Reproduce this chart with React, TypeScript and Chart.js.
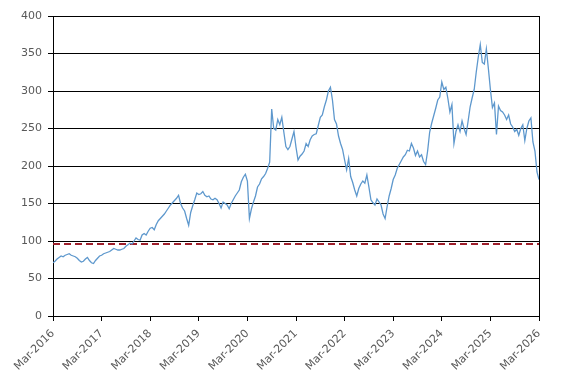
import React, { useEffect, useRef } from 'react';
import { Chart, registerables } from 'chart.js';

Chart.register(...registerables);

// Half-monthly values, starting Mar-2016
const values2016 = [71, 73, 76, 78, 80, 79, 81, 82, 83, 81, 80, 79, 77, 74, 72, 73, 76, 78, 74, 71, 70, 74, 77, 80];
const values2017 = [81, 83, 84, 85, 86, 88, 90, 89, 88, 88, 89, 90, 93, 95, 97, 96, 100, 104, 102, 101, 108, 110, 108, 113];
const values2018 = [117, 118, 115, 122, 127, 130, 133, 136, 140, 144, 148, 151, 154, 157, 161, 150, 144, 140, 130, 121, 138, 147, 155, 164];
const values2019 = [162, 163, 166, 161, 159, 160, 156, 155, 157, 155, 150, 144, 152, 150, 148, 143, 150, 155, 160, 164, 168, 179, 185, 189];
const values2020 = [180, 130, 143, 152, 160, 172, 176, 183, 186, 190, 197, 205, 276, 250, 248, 262, 255, 265, 245, 226, 222, 226, 236, 246];
const values2021 = [225, 208, 213, 216, 220, 230, 226, 235, 240, 242, 243, 254, 265, 268, 279, 288, 300, 305, 288, 262, 256, 240, 230, 222];
const values2022 = [208, 195, 210, 186, 178, 168, 160, 170, 176, 180, 177, 188, 172, 155, 151, 148, 156, 152, 148, 136, 130, 146, 160, 170];
const values2023 = [182, 188, 197, 202, 207, 212, 215, 221, 220, 230, 224, 214, 220, 212, 215, 206, 202, 220, 245, 257, 267, 277, 288, 292];
const values2024 = [312, 302, 305, 290, 272, 282, 230, 246, 255, 246, 260, 250, 242, 260, 279, 291, 302, 325, 345, 362, 338, 336, 356, 330];
const values2025 = [302, 278, 284, 242, 280, 274, 272, 268, 262, 268, 256, 252, 246, 249, 241, 250, 255, 234, 250, 260, 264, 232, 220, 192];
const valuesEnd = [182];

const thresholdValue = 96;

const xTickLabels = [
  'Mar-2016', 'Mar-2017', 'Mar-2018', 'Mar-2019', 'Mar-2020', 'Mar-2021',
  'Mar-2022', 'Mar-2023', 'Mar-2024', 'Mar-2025', 'Mar-2026',
];

const series = [
  ...values2016, ...values2017, ...values2018, ...values2019, ...values2020,
  ...values2021, ...values2022, ...values2023, ...values2024, ...values2025, ...valuesEnd,
];

export default function App() {
  const ref = useRef<HTMLCanvasElement>(null);

  useEffect(() => {
    document.body.style.margin = '0';
    const points = series.map((v, i) => ({ x: i * 0.5, y: v }));
    const lastMonth = (xTickLabels.length - 1) * 12;
    const font = { family: 'DejaVu Sans', size: 11 };
    const chart = new Chart(ref.current!, {
      type: 'line',
      data: {
        datasets: [
          {
            data: points,
            borderColor: '#5E98CD',
            borderWidth: 1.3,
            pointRadius: 0,
            tension: 0,
          },
          {
            data: [
              { x: 0, y: thresholdValue },
              { x: lastMonth, y: thresholdValue },
            ],
            borderColor: '#9E1F2B',
            borderWidth: 2,
            borderDash: [7, 4],
            pointRadius: 0,
          },
        ],
      },
      options: {
        animation: false,
        responsive: false,
        maintainAspectRatio: false,
        layout: { padding: { top: 16, right: 28, left: 0, bottom: 0 } },
        plugins: { legend: { display: false }, tooltip: { enabled: false } },
        scales: {
          x: {
            type: 'linear',
            min: 0,
            max: lastMonth,
            ticks: {
              stepSize: 12,
              autoSkip: false,
              maxRotation: 45,
              minRotation: 45,
              padding: 6,
              color: '#595959',
              font,
              callback: (v: any) => xTickLabels[Math.round(Number(v) / 12)] ?? '',
            },
            grid: {
              color: (ctx: any) => (ctx.tick && ctx.tick.value === lastMonth ? '#000' : 'rgba(0,0,0,0)'),
              tickColor: '#000',
              tickLength: 5,
              lineWidth: 1,
            },
            border: { display: true, color: '#000', width: 1 },
            afterFit: (s: any) => {
              s.height = 67;
            },
          },
          y: {
            min: 0,
            max: 400,
            ticks: { stepSize: 50, padding: 6, color: '#595959', font },
            grid: { color: '#000', tickColor: '#000', tickLength: 5, lineWidth: 1 },
            border: { display: true, color: '#000', width: 1 },
            afterFit: (s: any) => {
              s.width = 53;
            },
          },
        },
      },
    });
    return () => chart.destroy();
  }, []);

  return (
    <div style={{ width: 567, height: 383, background: '#fff' }}>
      <canvas ref={ref} width={567} height={383} style={{ display: 'block' }} />
    </div>
  );
}
